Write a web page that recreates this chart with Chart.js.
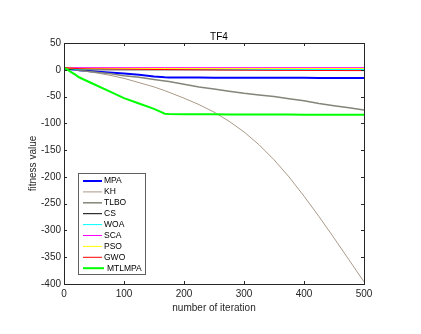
<!DOCTYPE html>
<html>
<head>
<meta charset="utf-8">
<script src="https://cdn.jsdelivr.net/npm/chart.js@4.4.0/dist/chart.umd.min.js"></script>
<style>
body { margin: 0; background: #fff; }
</style>
</head>
<body>
<canvas id="tf4-chart" width="421" height="334"></canvas>
<script>
const iterations = [0, 10, 20, 25, 50, 75, 100, 125, 150, 168, 175, 200, 225, 250, 275, 300, 325, 350, 375, 400, 425, 450, 475, 500];

const mpa    = [3, 1, 0, -1, -3, -5, -7, -9.5, -12.5, -14, -14.2, -14.5, -14.6, -14.7, -14.8, -14.9, -15, -15, -15.1, -15.1, -15.2, -15.2, -15.3, -15.3];
const kh     = [3, 2, 0, -1, -5, -10, -16, -24, -32, -39, -42, -53, -65, -79, -96, -116, -140, -168, -200, -236, -274, -314, -355, -396];
const tlbo   = [3, 2, 0, -1, -4, -7, -11, -14, -18, -21, -22, -27, -32, -36, -40, -44, -47, -50, -54, -58, -63, -67, -71, -75];
const cs     = [3, 1, 0.5, 0.3, 0, 0, 0, 0, 0, 0, 0, 0, 0, 0, 0, 0, 0, 0, 0, 0, 0, 0, 0, 0];
const woa    = [3, 2, 1, 1, 0.5, 0.5, 0.5, 0.5, 0.5, 0.5, 0.5, 0.5, 0.5, 0.5, 0.5, 0.5, 0.5, 0.5, 0.5, 0.5, 0.5, 0.5, 0.5, 0.5];
const sca    = [4, 4, 4, 4, 4, 4, 4, 4, 4, 4, 4, 4, 4, 4, 4, 4, 4, 4, 4, 4, 4, 4, 4, 4];
const pso    = [3, 3, 2.5, 2.5, 2.5, 2.5, 2.5, 2.5, 2.5, 2.5, 2.5, 2.5, 2.5, 2.5, 2.5, 2.5, 2.5, 2.5, 2.5, 2.5, 2.5, 2.5, 2.5, 2.5];
const gwo    = [4, 3, 2.5, 2, 1.5, 1.2, 1, 0.8, 0.6, 0.5, 0.4, 0.2, 0, -0.2, -0.4, -0.6, -0.8, -1, -1.1, -1.2, -1.3, -1.4, -1.5, -1.5];
const mtlmpa = [4, -3, -10, -14, -27, -40, -53, -63, -73, -82, -82.5, -83, -83.1, -83.2, -83.3, -83.4, -83.5, -83.6, -83.7, -83.8, -83.8, -83.9, -84, -84];

const seriesNames = ['MPA', 'KH', 'TLBO', 'CS', 'WOA', 'SCA', 'PSO', 'GWO', 'MTLMPA'];
const seriesData = [mpa, kh, tlbo, cs, woa, sca, pso, gwo, mtlmpa];
const seriesColors = ['#0000ff', '#aa9a88', '#84847a', '#000000', '#00ffff', '#ff00ff', '#ffff00', '#ff0000', '#00ff00'];
const seriesWidths = [2, 1, 1.5, 1, 1, 1, 1, 1, 2];

const xTicks = [0, 100, 200, 300, 400, 500];
const yTicks = [-400, -350, -300, -250, -200, -150, -100, -50, 0, 50];

const textColor = '#262626';
const fontFamily = '"Liberation Sans", Arial, sans-serif';

function toPoints(values) {
    return iterations.map((it, i) => ({x: it, y: values[i]}));
}

const datasets = seriesNames.map((name, i) => ({
    label: name,
    data: toPoints(seriesData[i]),
    borderColor: seriesColors[i],
    backgroundColor: seriesColors[i],
    borderWidth: seriesWidths[i],
    pointRadius: 0,
    tension: 0,
    fill: false,
    order: seriesNames.length - i // later series on top, like matlab
}));

// box, inward ticks, title and the legend inside the axes
const matlabLook = {
    id: 'matlabLook',
    afterDatasetsDraw(chart) {
        const {ctx, chartArea: a} = chart;
        const xs = chart.scales.x, ys = chart.scales.y;
        ctx.save();
        ctx.strokeStyle = textColor;
        ctx.lineWidth = 1;
        ctx.strokeRect(a.left + 0.5, a.top + 0.5, a.right - a.left, a.bottom - a.top);
        ctx.beginPath();
        xTicks.forEach(v => {
            const px = Math.round(xs.getPixelForValue(v)) + 0.5;
            ctx.moveTo(px, a.bottom); ctx.lineTo(px, a.bottom - 3);
            ctx.moveTo(px, a.top); ctx.lineTo(px, a.top + 3);
        });
        yTicks.forEach(v => {
            const py = Math.round(ys.getPixelForValue(v)) + 0.5;
            ctx.moveTo(a.left, py); ctx.lineTo(a.left + 3, py);
            ctx.moveTo(a.right, py); ctx.lineTo(a.right - 3, py);
        });
        ctx.stroke();

        // title
        ctx.fillStyle = '#000';
        ctx.font = '10px ' + fontFamily;
        ctx.textAlign = 'center';
        ctx.textBaseline = 'middle';
        ctx.fillText('TF4', 219, 37);
        ctx.restore();
    },
    afterDraw(chart) {
        const ctx = chart.ctx;
        const boxX = 78.5, boxY = 173.5, boxW = 67, boxH = 101;
        ctx.save();
        ctx.fillStyle = '#fff';
        ctx.fillRect(boxX, boxY, boxW, boxH);
        ctx.strokeStyle = '#5f5f5f';
        ctx.lineWidth = 1;
        ctx.strokeRect(boxX, boxY, boxW, boxH);
        ctx.font = '8.5px ' + fontFamily;
        ctx.textBaseline = 'middle';
        ctx.textAlign = 'left';
        chart.data.datasets.forEach((ds, i) => {
            const yy = 181 + i * 10.9;
            const last = i === chart.data.datasets.length - 1;
            ctx.strokeStyle = ds.borderColor;
            ctx.lineWidth = ds.borderWidth;
            ctx.beginPath();
            ctx.moveTo(83, yy);
            ctx.lineTo(last ? 104 : 102, yy);
            ctx.stroke();
            ctx.fillStyle = '#000';
            ctx.fillText(ds.label, last ? 107 : 104, yy);
        });
        ctx.restore();
    }
};

const ctx = document.getElementById('tf4-chart').getContext('2d');
new Chart(ctx, {
    type: 'line',
    data: {datasets: datasets},
    options: {
        responsive: false,
        animation: false,
        layout: {padding: {left: 0, top: 43, right: 57, bottom: 0}},
        plugins: {
            legend: {display: false},
            tooltip: {enabled: false}
        },
        scales: {
            x: {
                type: 'linear',
                min: 0,
                max: 500,
                afterFit: scale => { scale.height = 50; },
                ticks: {
                    stepSize: 100,
                    padding: 4,
                    color: textColor,
                    font: {family: fontFamily, size: 10}
                },
                grid: {display: false, drawTicks: false},
                border: {display: false},
                title: {
                    display: true,
                    text: 'number of iteration',
                    color: textColor,
                    font: {family: fontFamily, size: 10},
                    padding: {top: 0, bottom: 20}
                }
            },
            y: {
                type: 'linear',
                min: -400,
                max: 50,
                afterFit: scale => { scale.width = 64; },
                ticks: {
                    stepSize: 50,
                    padding: 3,
                    color: textColor,
                    font: {family: fontFamily, size: 10}
                },
                grid: {display: false, drawTicks: false},
                border: {display: false},
                title: {
                    display: true,
                    text: 'fitness value',
                    color: textColor,
                    font: {family: fontFamily, size: 10},
                    padding: {top: 27, bottom: 0}
                }
            }
        }
    },
    plugins: [matlabLook]
});
</script>
</body>
</html>
